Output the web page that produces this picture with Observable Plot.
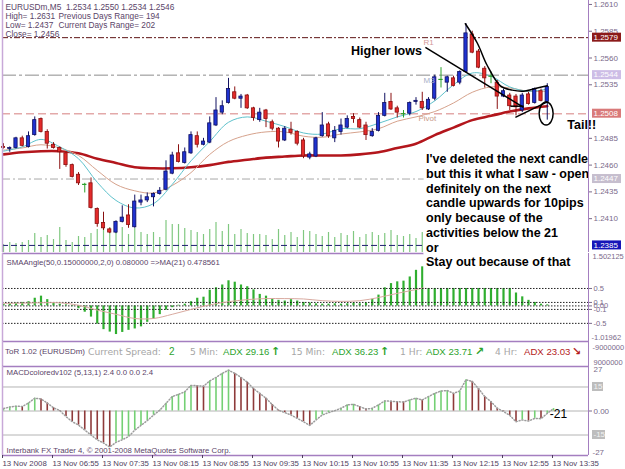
<!DOCTYPE html>
<html><head><meta charset="utf-8">
<script src="https://cdn.jsdelivr.net/npm/d3@7"></script>
<script src="https://cdn.jsdelivr.net/npm/@observablehq/plot@0.6"></script>
<style>
body{margin:0;background:#fff;}
#chart{position:relative;width:625px;height:469px;overflow:hidden;background:#fff;font-family:"Liberation Sans",Arial,sans-serif;}
.panel{position:absolute;left:0;}
.panel svg{overflow:visible;display:block;}
#tor{position:absolute;left:0;top:341px;width:625px;height:25px;z-index:5;}
#tor span{position:absolute;white-space:nowrap;line-height:12px;top:5px;}
</style></head><body><div id="chart"></div>
<script>
// ---------- data (5-minute bars, index 0 = 13 Nov 06:15) ----------
const open  = [1.2477,1.2475,1.2476,1.2485,1.2477,1.2488,1.2503,1.2491,1.2479,1.2476,
 1.2471,1.2460,1.2451,1.2442,1.2443,1.2419,1.2406,1.2400,1.2397,1.2407,
 1.2413,1.2402,1.2425,1.2427,1.2430,1.2433,1.2437,1.2452,1.2471,1.2462,
 1.2471,1.2487,1.2479,1.2481,1.2497,1.2509,1.2518,1.2528,1.2522,1.2525,
 1.2513,1.2502,1.2511,1.2500,1.2494,1.2483,1.2493,1.2491,1.2483,1.2467,
 1.2468,1.2487,1.2498,1.2485,1.2491,1.2495,1.2505,1.2502,1.2497,1.2487,
 1.2492,1.2506,1.2519,1.2513,1.2508,1.2508,1.2519,1.2519,1.2512,1.2522,
 1.2540,1.2537,1.2541,1.2537,1.2547,1.2582,1.2566,1.2550,1.2543,1.2537,
 1.2524,1.2525,1.2524,1.2511,1.2526,1.2518,1.2529,1.2519];
const high  = [1.2480,1.2477,1.2486,1.2487,1.2491,1.2505,1.2504,1.2493,1.2481,1.2477,
 1.2472,1.2461,1.2453,1.2443,1.2448,1.2420,1.2416,1.2401,1.2408,1.2422,
 1.2423,1.2432,1.2432,1.2434,1.2434,1.2439,1.2464,1.2472,1.2479,1.2476,
 1.2491,1.2491,1.2485,1.2505,1.2523,1.2520,1.2541,1.2533,1.2526,1.2526,
 1.2514,1.2513,1.2512,1.2502,1.2495,1.2496,1.2500,1.2492,1.2485,1.2472,
 1.2486,1.2509,1.2500,1.2496,1.2503,1.2506,1.2508,1.2504,1.2500,1.2494,
 1.2509,1.2527,1.2527,1.2515,1.2511,1.2519,1.2523,1.2528,1.2523,1.2544,
 1.2551,1.2543,1.2543,1.2548,1.2592,1.2585,1.2568,1.2552,1.2547,1.2539,
 1.2531,1.2527,1.2526,1.2527,1.2528,1.2532,1.2531,1.2536];
const low   = [1.2475,1.2472,1.2475,1.2477,1.2476,1.2487,1.2490,1.2475,1.2475,1.2456,
 1.2458,1.2448,1.2441,1.2434,1.2419,1.2402,1.2399,1.2396,1.2396,1.2406,
 1.2401,1.2401,1.2422,1.2425,1.2421,1.2432,1.2436,1.2451,1.2462,1.2461,
 1.2470,1.2476,1.2478,1.2480,1.2496,1.2507,1.2517,1.2521,1.2513,1.2512,
 1.2501,1.2500,1.2495,1.2492,1.2476,1.2482,1.2488,1.2478,1.2466,1.2465,
 1.2467,1.2486,1.2485,1.2481,1.2488,1.2494,1.2499,1.2494,1.2483,1.2486,
 1.2491,1.2505,1.2511,1.2504,1.2504,1.2506,1.2516,1.2511,1.2511,1.2520,
 1.2532,1.2528,1.2533,1.2535,1.2546,1.2564,1.2550,1.2532,1.2536,1.2512,
 1.2523,1.2511,1.2506,1.2509,1.2516,1.2517,1.2519,1.2502];
const close = [1.2476,1.2476,1.2485,1.2478,1.2487,1.2502,1.2491,1.2480,1.2476,1.2472,
 1.2460,1.2449,1.2443,1.2442,1.2420,1.2405,1.2401,1.2397,1.2407,1.2411,
 1.2404,1.2426,1.2427,1.2430,1.2433,1.2436,1.2454,1.2469,1.2463,1.2472,
 1.2488,1.2479,1.2482,1.2499,1.2511,1.2515,1.2531,1.2522,1.2524,1.2513,
 1.2504,1.2509,1.2503,1.2494,1.2482,1.2494,1.2490,1.2480,1.2468,1.2470,
 1.2485,1.2497,1.2487,1.2492,1.2497,1.2503,1.2503,1.2495,1.2488,1.2491,
 1.2506,1.2518,1.2512,1.2509,1.2508,1.2518,1.2520,1.2513,1.2521,1.2542,
 1.2540,1.2542,1.2534,1.2547,1.2583,1.2565,1.2551,1.2541,1.2543,1.2524,
 1.2529,1.2515,1.2514,1.2525,1.2517,1.2531,1.2520,1.2533];
const volume = [8,10,9,10,12,19,15,17,13,25,
 12,10,16,15,19,23,24,25,20,25,
 18,24,20,18,20,15,32,28,28,24,
 22,20,18,23,30,21,28,18,23,19,
 18,18,17,13,23,17,20,15,22,21,
 18,16,20,15,19,17,21,15,18,20,
 17,19,22,17,16,18,14,20,18,22,
 16,19,17,25,30,24,20,18,16,21,
 17,19,15,18,16,20,17,14];
// moving averages read every 3rd bar
const maIdx  = [0,3,6,9,12,15,18,21,24,27,30,33,36,39,42,45,48,51,54,57,60,63,66,69,72,75,78,81,84,87];
const maSlow = [1.2470,1.2472,1.2473,1.2473,1.2471,1.2466,1.2462,1.2458,1.2457,1.2457,1.2458,1.2460,1.2463,1.2465,1.2467,1.2468,1.2469,1.2469,1.2469,1.2470,1.2472,1.2476,1.2480,1.2488,1.2495,1.2502,1.2506,1.2510,1.2513,1.2515];
const maMid  = [1.2474,1.2476,1.2479,1.2476,1.2469,1.2455,1.2442,1.2436,1.2434,1.2441,1.2453,1.2470,1.2482,1.2488,1.2491,1.2491,1.2487,1.2486,1.2489,1.2491,1.2494,1.2501,1.2505,1.2510,1.2518,1.2528,1.2533,1.2532,1.2529,1.2529];
const maFast = [1.2473,1.2477,1.2484,1.2477,1.2466,1.2444,1.2427,1.2420,1.2424,1.2442,1.2464,1.2482,1.2500,1.2505,1.2501,1.2496,1.2490,1.2489,1.2494,1.2494,1.2499,1.2505,1.2510,1.2520,1.2535,1.2546,1.2543,1.2533,1.2529,1.2531];
const priceTicks  = [1.2610,1.2585,1.2560,1.2535,1.2485,1.2460,1.2435,1.2410];
const priceLevels = [1.2579,1.2544,1.2508,1.2447,1.2385];
// SMAAngle histogram and its MA(21)
const smaAngle = [0.05,0.06,0.08,0.10,0.12,0.22,0.28,0.18,0.08,0.05,
 0.03,-0.02,-0.08,-0.18,-0.32,-0.52,-0.68,-0.75,-0.82,-0.76,
 -0.70,-0.66,-0.60,-0.47,-0.38,-0.25,-0.12,-0.05,0.02,0.05,
 0.12,0.22,0.25,0.45,0.52,0.60,0.72,0.68,0.60,0.55,
 0.46,0.33,0.28,0.20,0.16,0.14,0.18,0.14,0.10,0.08,
 0.06,0.05,0.05,0.06,0.05,0.06,0.08,0.06,0.08,0.19,
 0.31,0.52,0.64,0.69,0.71,0.83,1.02,1.12,1.20,1.30,
 1.25,1.20,1.15,1.10,1.35,1.30,1.20,1.05,0.95,0.85,
 0.72,0.60,0.37,0.26,0.16,0.10,0.05,0.03];
const smaAngleMA = [0.07,0.08,0.09,0.09,0.02,-0.12,-0.24,-0.36,-0.36,-0.24,-0.10,0.03,0.12,0.18,0.21,0.21,0.20,0.15,0.13,0.15,0.24,0.36,0.47,0.58,0.66,0.72,0.74,0.74,0.72,0.70];
const smaTicks = [0.5,0.1,0,-0.1,-0.5];
const smaRange = [-1.01962,1.502125];
// MACD histogram (one more bar than the candles: the deleted one)
const macd = [1.5,2.5,3,2.8,5,8,7.5,5,2,0.3,
 -3.5,-6.7,-8.8,-11.9,-15,-18,-20,-22.5,-19.6,-18,
 -16,-12,-9,-6,-2.6,0.5,4.8,9,10.4,12,
 16,15.8,15.5,18.8,21,23.5,25.5,23.5,21,18,
 14,11,8,4,0.5,-1,-2.5,-4.6,-6.7,-9,
 -5.6,-2.5,-1,0.2,1.7,3.8,4.2,2.7,1.2,1.7,
 3.8,6.3,6.1,5.8,5.6,6.9,8,6.9,9,11,
 12.5,12.8,11,12.5,19.5,18.5,14,9,5.8,1.7,
 -0.3,-2.7,-6.7,-5.6,-6.3,-4.6,-4.8,-1.5,1.5];
const macdLevels = [15,0,-15];
const timeTicks  = [0,8,16,24,32,40,48,56,64,72,80,88];
const timeLabels = ["13 Nov 2008","13 Nov 06:55","13 Nov 07:35","13 Nov 08:15","13 Nov 08:55","13 Nov 09:35","13 Nov 10:15","13 Nov 10:55","13 Nov 11:35","13 Nov 12:15","13 Nov 12:55","13 Nov 13:35"];
// hand-drawn annotations (bar index, price)
const annoSegments = [
 {x1:67.5,y1:1.2570,x2:83.2,y2:1.2514},
 {x1:81.1,y1:1.2515,x2:83.2,y2:1.2515},
 {x1:81.9,y1:1.25045,x2:87,y2:1.2519}];
const annoCurve = [{x:73.9,y:1.2592},{x:75.8,y:1.2574},{x:77.4,y:1.2553},{x:79.5,y:1.2534},{x:81.4,y:1.2530},{x:83.2,y:1.2529},{x:85.4,y:1.2532},{x:87,y:1.2534}];
const tailMark = {x:86.9,y:1.25078};
const noteText = "I've deleted the next candle\nbut this it what I saw - open\ndefinitely on the next\ncandle upwards for 10pips\nonly because of the\nactivities below the 21\nor\nStay out because of that";

// ---------- styles ----------
const FONT = "'Liberation Sans', Arial, sans-serif";
const AX = "#7a6a8a", FR = "#a47ec0", TXT = "#5a4468";
const xDom = [-0.16, 93.6];
const priceDom = [1.23784, 1.26137];
const levelStyle = [
 {stroke:"#5e1414", dash:"6,2,2,2", w:1, bg:"#8b1a1a", fg:"#fff"},
 {stroke:"#8c8c8c", dash:"14,3,3,3", w:1, bg:"#cdbde6", fg:"#fff"},
 {stroke:"#e3a9a9", dash:"8,4", w:1.5, bg:"#d97a7a", fg:"#fff"},
 {stroke:"#a9a9a9", dash:"8,3,2,3", w:1, bg:"#c6bece", fg:"#fff"},
 {stroke:"#1e1e70", dash:"6,3", w:1, bg:"#1616b8", fg:"#fff"}];
const base = {width:625, marginLeft:2, marginRight:37, marginTop:0, marginBottom:0,
  x:{domain:xDom, axis:null}, color:{type:"identity"},
  style:{overflow:"visible", background:"transparent", fontFamily:FONT, color:AX}};

const chart = document.getElementById("chart");
function place(svg, top, z){ const d=document.createElement("div"); d.className="panel"; d.style.top=top+"px"; d.style.zIndex=z; d.appendChild(svg); chart.appendChild(d); return svg; }
function hiLabel(svg, sy, v, text, bg, fg, w){
  const y = sy.apply(v), x0 = 625 - 37 + 4;
  const g = d3.select(svg).append("g").attr("font-family", FONT).attr("font-size", 8).attr("text-anchor", "start");
  g.append("rect").attr("x", x0).attr("y", y-4.5).attr("width", w).attr("height", 9).attr("fill", bg);
  g.append("text").attr("x", x0+1.5).attr("y", y).attr("dy","0.35em").attr("text-anchor","start").attr("fill", fg).text(text);
}

// ---------- volume layer ----------
const volData = volume.map((v,i)=>({i, v}));
place(Plot.plot({...base, height:252, y:{domain:[0,252], axis:null},
  marks:[Plot.ruleX(volData, {x:"i", y1:()=>0, y2:"v", stroke:"#80c880", strokeWidth:1.2})]}), 0, 2);

// ---------- main price panel ----------
const candles = open.map((o,i)=>({i, o, h:high[i], l:low[i], c:close[i], t: o===close[i] ? "doji" : (close[i]>o ? "up" : "down")}));
const bodyFill = {up:"#1f32d0", down:"#e32a2a", doji:"#2aa02a"};
const wickCol  = {up:"#101060", down:"#8a1010", doji:"#2aa02a"};
const ma = (arr)=>maIdx.map((x,k)=>({x, y:arr[k]}));
const textBox = {x1:67.3, x2:xDom[1], y1:priceDom[0], y2:1.2477};

const main = Plot.plot({...base, height:252, y:{domain:priceDom},
  marks:[
    ...priceLevels.map((v,k)=>Plot.ruleY([v], {stroke:levelStyle[k].stroke, strokeDasharray:levelStyle[k].dash, strokeWidth:levelStyle[k].w})),
    Plot.line(ma(maSlow), {x:"x", y:"y", stroke:"#b3161c", strokeWidth:2.6, curve:"catmull-rom"}),
    Plot.line(ma(maMid),  {x:"x", y:"y", stroke:"#d6a28c", strokeWidth:1, curve:"catmull-rom"}),
    Plot.line(ma(maFast), {x:"x", y:"y", stroke:"#5fc2cc", strokeWidth:1, curve:"catmull-rom"}),
    Plot.ruleX(candles, {x:"i", y1:"l", y2:"h", stroke:d=>wickCol[d.t], strokeWidth:1}),
    Plot.rect(candles.filter(d=>d.t!=="doji"), {x1:d=>d.i-0.26, x2:d=>d.i+0.26, y1:"o", y2:"c", fill:d=>bodyFill[d.t], stroke:d=>wickCol[d.t], strokeWidth:0.8}),
    Plot.ruleY(candles.filter(d=>d.t==="doji"), {y:"o", x1:d=>d.i-0.35, x2:d=>d.i+0.35, stroke:bodyFill.doji, strokeWidth:1.2}),
    Plot.text(["R1"], {x:()=>67.2, y:()=>1.2575, text:d=>d, textAnchor:"start", fontSize:8, fill:"#d29a9a"}),
    Plot.text(["M3"], {x:()=>67.2, y:()=>1.2539, text:d=>d, textAnchor:"start", fontSize:8, fill:"#a9b0c8"}),
    Plot.text(["Pivot"], {x:()=>66.4, y:()=>1.2504, text:d=>d, textAnchor:"start", fontSize:8, fill:"#c89a88"}),
    Plot.rect([textBox], {x1:"x1", x2:"x2", y1:"y1", y2:"y2", fill:"white", insetBottom:-2}),
    Plot.link(annoSegments, {x1:"x1", y1:"y1", x2:"x2", y2:"y2", stroke:"black", strokeWidth:1.5}),
    Plot.line(annoCurve, {x:"x", y:"y", curve:"catmull-rom", stroke:"black", strokeWidth:1.5}),
    Plot.text(["EURUSDm,M5\u00a0\u00a01.2534 1.2550 1.2534 1.2546\nHigh= 1.2631\nLow= 1.2437\nClose= 1.2456"],
      {frameAnchor:"top-left", dx:3, dy:3, lineAnchor:"top", textAnchor:"start", text:d=>d, fontSize:8.3, lineHeight:1.08, fill:TXT}),
    Plot.text(["Previous Days Range= 194\nCurrent Days Range= 202"],
      {frameAnchor:"top-left", dx:56, dy:12, lineAnchor:"top", textAnchor:"start", text:d=>d, fontSize:8.3, lineHeight:1.08, fill:TXT}),
    Plot.text(["Higher lows"], {x:()=>55.6, y:()=>1.2567, text:d=>d, textAnchor:"start", fontSize:12.5, fontWeight:"bold", fill:"black"}),
    Plot.text(["Tail!!"], {x:()=>90.2, y:()=>1.2497, text:d=>d, textAnchor:"start", fontSize:12.5, fontWeight:"bold", fill:"black"}),
    Plot.text([noteText], {x:()=>67.6, y:()=>1.24716, text:d=>d, textAnchor:"start", lineAnchor:"top", lineHeight:1.18, fontSize:12.5, fontWeight:"bold", fill:"black"}),
    Plot.ruleX([xDom[0]], {stroke:"#c8a8d8", strokeWidth:1.5}),
    Plot.ruleX([xDom[1]], {stroke:FR}),
    Plot.axisY({anchor:"right", ticks:priceTicks, tickFormat:d3.format(".4f"), tickSize:3, tickPadding:2, fontSize:8, label:null})
  ]});
place(main, 0, 3);
{
  const sx = main.scale("x"), sy = main.scale("y");
  priceLevels.forEach((v,k)=>hiLabel(main, sy, v, d3.format(".4f")(v), levelStyle[k].bg, levelStyle[k].fg, 29));
  d3.select(main).append("ellipse").attr("cx", sx.apply(tailMark.x)).attr("cy", sy.apply(tailMark.y))
    .attr("rx", 7).attr("ry", 11.5).attr("fill","none").attr("stroke","black").attr("stroke-width",1.5);
}

// ---------- SMAAngle panel ----------
const smaData = smaAngle.map((v,i)=>({i, v}));
const smaBox = {x1:67.3, x2:xDom[1], y1:0.5, y2:smaRange[1]};
const sma = Plot.plot({...base, height:88, y:{domain:smaRange},
  marks:[
    Plot.ruleY([smaRange[1]], {stroke:FR, strokeWidth:1.5}),
    Plot.ruleX(smaData, {x:"i", y1:()=>0, y2:"v", stroke:"#2fae2f", strokeWidth:2.2}),
    Plot.ruleY(smaTicks.slice(1), {stroke:"#222", strokeDasharray:"1.5,1.5"}),
    Plot.line(maIdx.map((x,k)=>({x, y:smaAngleMA[k]})), {x:"x", y:"y", stroke:"#d9aaa0", strokeWidth:1, curve:"catmull-rom"}),
    Plot.rect([smaBox], {x1:"x1", x2:"x2", y1:"y1", y2:"y2", fill:"white", insetTop:-2}),
    Plot.ruleY([smaTicks[0]], {stroke:"#222", strokeDasharray:"1.5,1.5"}),
    Plot.text(["SMAAngle(50,0.15000000,2,0) 0.080000 =>MA(21) 0.478561"], {frameAnchor:"top-left", dx:4, dy:6, lineAnchor:"top", textAnchor:"start", text:d=>d, fontSize:7.8, fill:TXT}),
    Plot.ruleX([xDom[0]], {stroke:"#c8a8d8", strokeWidth:1.5}),
    Plot.ruleX([xDom[1]], {stroke:FR}),
    Plot.axisY({anchor:"right", ticks:smaTicks, tickFormat:d=>d===0?"0.00":String(d), tickSize:3, tickPadding:2, fontSize:7.5, label:null}),
    Plot.text([String(smaRange[1])], {frameAnchor:"top-right", dx:4, dy:0, lineAnchor:"top", textAnchor:"start", text:d=>d, fontSize:7.5}),
    Plot.text([String(smaRange[0])], {frameAnchor:"bottom-right", dx:3, dy:-2, lineAnchor:"bottom", textAnchor:"start", text:d=>d, fontSize:7.5})
  ]});
place(sma, 253, 1);

// ---------- ToR panel ----------
const tor = Plot.plot({...base, height:25, y:{domain:[0,1], axis:null},
  marks:[
    Plot.ruleY([1], {stroke:FR, strokeWidth:1.5}),
    Plot.ruleX([xDom[0]], {stroke:"#c8a8d8", strokeWidth:1.5}),
    Plot.ruleX([xDom[1]], {stroke:FR}),
    Plot.text(["-9000000"], {frameAnchor:"top-right", dx:4, dy:3, lineAnchor:"top", textAnchor:"start", text:d=>d, fontSize:7.5}),
    Plot.text(["9000000"], {frameAnchor:"bottom-right", dx:5, dy:-2, lineAnchor:"bottom", textAnchor:"start", text:d=>d, fontSize:7.5})
  ]});
place(tor, 341, 1);
const GREEN = "#2ea32e", GRAY = "#a6a6a6";
const torItems = [
  ["ToR 1.02 (EURUSDm)", 5, TXT, "8px", FONT, "normal"],
  ["Current Spread:", 88, GRAY, "9.2px", "'DejaVu Sans', sans-serif", "normal"],
  ["2", 169, GREEN, "10px", FONT, "normal"],
  ["5 Min:", 190, GRAY, "9.2px", "'DejaVu Sans', sans-serif", "normal"],
  ["ADX 29.16", 223, GREEN, "9.6px", FONT, "normal"],
  ["\u2191", 271, GREEN, "11px", "'DejaVu Sans', sans-serif", "bold"],
  ["15 Min:", 291, GRAY, "9.2px", "'DejaVu Sans', sans-serif", "normal"],
  ["ADX 36.23", 332, GREEN, "9.6px", FONT, "normal"],
  ["\u2191", 380, GREEN, "11px", "'DejaVu Sans', sans-serif", "bold"],
  ["1 Hr:", 400, GRAY, "9.2px", "'DejaVu Sans', sans-serif", "normal"],
  ["ADX 23.71", 426, GREEN, "9.6px", FONT, "normal"],
  ["\u2197", 475, GREEN, "11px", "'DejaVu Sans', sans-serif", "bold"],
  ["4 Hr:", 495, GRAY, "9.2px", "'DejaVu Sans', sans-serif", "normal"],
  ["ADX 23.03", 524, "#b41c1c", "9.6px", FONT, "normal"],
  ["\u2198", 572, "#b41c1c", "11px", "'DejaVu Sans', sans-serif", "bold"]];
const torDiv = document.createElement("div"); torDiv.id = "tor"; chart.appendChild(torDiv);
torItems.forEach(([t,l,c,s,f,w])=>{ const sp=document.createElement("span"); sp.textContent=t; sp.style.left=l+"px"; sp.style.color=c; sp.style.fontSize=s; sp.style.fontFamily=f; sp.style.fontWeight=w; torDiv.appendChild(sp); });

// ---------- MACD panel + time axis ----------
const macdData = macd.map((v,i)=>({i, v, col: (i===0 || v>=macd[i-1]) ? "#74d074" : "#8e3a3a"}));
const macdDom = [-27.8, 27.8];
const macdPlot = Plot.plot({...base, height:103, marginBottom:14, y:{domain:macdDom},
  style:{...base.style, color:"#4e3e5e"},
  marks:[
    Plot.ruleY(macdLevels, {stroke:"#b4b4b4"}),
    Plot.ruleX(macdData, {x:"i", y1:()=>0, y2:"v", stroke:"col", strokeWidth:1.6}),
    Plot.line(macdData, {x:"i", y:"v", stroke:"#9c9c9c", strokeDasharray:"1,2"}),
    Plot.ruleY([macdDom[1]], {stroke:FR, strokeWidth:1.5}),
    Plot.ruleY([macdDom[0]], {stroke:FR, strokeWidth:1.5}),
    Plot.ruleX([xDom[0]], {stroke:"#c8a8d8", strokeWidth:1.5}),
    Plot.ruleX([xDom[1]], {stroke:FR}),
    Plot.text(["MACDcoloredv102 (5,13,1) 2.4 0.0 0.0 2.4"], {frameAnchor:"top-left", dx:4, dy:3, lineAnchor:"top", textAnchor:"start", text:d=>d, fontSize:7.8, fill:TXT}),
    Plot.text(["Interbank FX Trader 4, \u00a9 2001-2008 MetaQuotes Software Corp."], {frameAnchor:"bottom-left", dx:4, dy:-3, lineAnchor:"bottom", textAnchor:"start", text:d=>d, fontSize:7.8, fill:TXT}),
    Plot.text(["-21"], {x:()=>87.4, y:()=>-2.2, text:d=>d, textAnchor:"start", fontSize:12, fill:"black"}),
    Plot.axisY({anchor:"right", ticks:[0], tickFormat:()=>"0.00", tickSize:3, tickPadding:2, fontSize:8, label:null, fill:AX, stroke:AX}),
    Plot.text(["27"], {frameAnchor:"top-right", dx:5, dy:0, lineAnchor:"top", textAnchor:"start", text:d=>d, fontSize:8, fill:AX}),
    Plot.text(["-27"], {frameAnchor:"bottom-right", dx:4, dy:-1, lineAnchor:"bottom", textAnchor:"start", text:d=>d, fontSize:8, fill:AX}),
    Plot.axisX({anchor:"bottom", ticks:timeTicks, tickFormat:d=>timeLabels[timeTicks.indexOf(d)], tickSize:3, tickPadding:2, textAnchor:"start", dx:-1, fontSize:7.8, label:null})
  ]});
place(macdPlot, 366, 1);
{
  const sy = macdPlot.scale("y");
  hiLabel(macdPlot, sy, 15, "15", "#bdbdbd", "#f2f2f2", 11);
  hiLabel(macdPlot, sy, -15, "-15", "#bdbdbd", "#f2f2f2", 13);
}
</script></body></html>
